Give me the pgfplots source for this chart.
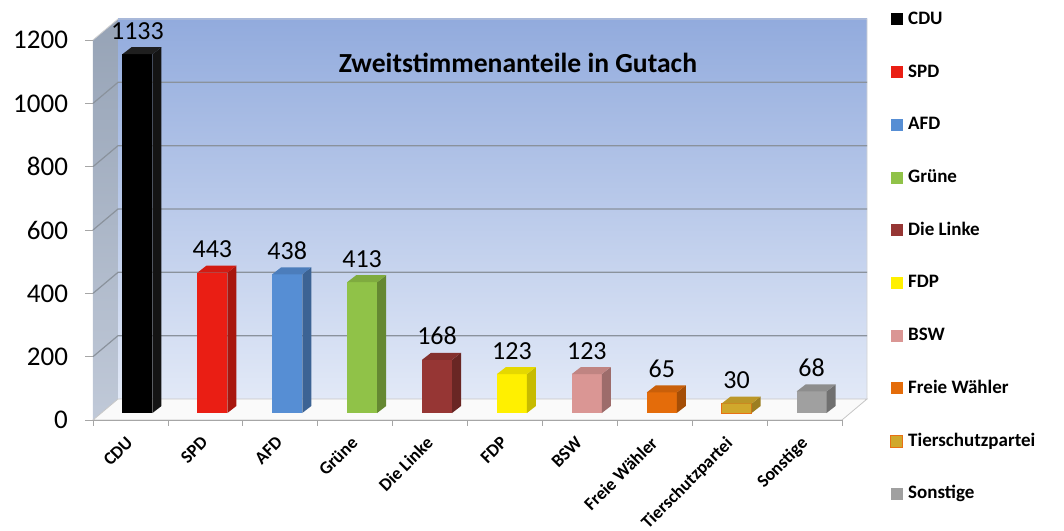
\documentclass[border=0pt]{standalone}
\usepackage{fontspec}
\setmainfont{Carlito}
\usepackage{pgfplots}
\pgfplotsset{compat=1.18}

\definecolor{cCDU}{RGB}{0,0,0}
\definecolor{cSPD}{RGB}{234,30,20}
\definecolor{cAFD}{RGB}{86,142,212}
\definecolor{cGRU}{RGB}{144,194,72}
\definecolor{cLIN}{RGB}{150,54,52}
\definecolor{cFDP}{RGB}{255,240,0}
\definecolor{cBSW}{RGB}{218,150,148}
\definecolor{cFW}{RGB}{228,108,10}
\definecolor{cTS}{RGB}{208,168,44}
\definecolor{cTSd}{RGB}{232,112,20}
\definecolor{cSON}{RGB}{160,160,160}
\definecolor{wallTop}{RGB}{146,171,221}
\definecolor{wallBot}{RGB}{226,233,247}
\definecolor{sideTop}{RGB}{150,163,182}
\definecolor{sideBot}{RGB}{192,201,216}
\definecolor{gridc}{RGB}{138,146,156}
\definecolor{floorc}{RGB}{250,250,250}

% side face of a bar: data point is the top centre of the front face
\pgfdeclareplotmark{pside}{%
  \pgfmathsetlengthmacro\hh{\ry*0.1583333pt}%
  \pgfpathmoveto{\pgfqpoint{7.5pt}{0pt}}%
  \pgfpathlineto{\pgfqpoint{12pt}{3.5pt}}%
  \pgfpathlineto{\pgfpoint{12pt}{3.5pt-\hh}}%
  \pgfpathlineto{\pgfpoint{7.5pt}{-\hh}}%
  \pgfpathclose\pgfusepathqfill}
% top face of a bar
\pgfdeclareplotmark{ptop}{%
  \pgfpathmoveto{\pgfqpoint{-7.5pt}{0pt}}%
  \pgfpathlineto{\pgfqpoint{7.5pt}{0pt}}%
  \pgfpathlineto{\pgfqpoint{12pt}{3.5pt}}%
  \pgfpathlineto{\pgfqpoint{-3pt}{3.5pt}}%
  \pgfpathclose\pgfusepathqfill}

\pgfplotsset{sqleg/.style={legend image code/.code={\path[##1] (0pt,-3pt) rectangle (6pt,3pt);}}}

% #1 x, #2 value, #3 front colour, #4 side colour, #5 top colour, #6 front outline
\newcommand\party[6]{%
  \addplot[ybar, bar width=15pt, bar shift=0pt, fill=#3, draw=#6, sqleg] coordinates {(#1,#2)};
  \addplot[only marks, mark=pside, mark options={fill=#4, draw=none},
    visualization depends on={rawy \as \ry}, forget plot] coordinates {(#1,#2)};
  \addplot[only marks, mark=ptop, mark options={fill=#5, draw=none},
    nodes near coords, forget plot] coordinates {(#1,#2)};
}

\begin{document}
\begin{tikzpicture}
\useasboundingbox (-50pt,-58.5pt) rectangle (482pt,206.5pt);
\begin{axis}[
  scale only axis, width=374.5pt, height=190pt,
  xmin=-0.5, xmax=9.5, ymin=0, ymax=1200,
  clip=false,
  axis line style={draw=none},
  major tick length=0pt,
  xtick={0,...,9},
  xticklabels={CDU,SPD,AFD,Grüne,Die Linke,FDP,BSW,Freie Wähler,Tierschutzpartei,Sonstige},
  ytick={0,200,...,1200},
  /pgf/number format/1000 sep={},
  /pgf/number format/assume math mode=true,
  yticklabel style={font=\fontsize{13.5}{16}\selectfont, xshift=-12.5pt, yshift=-3.5pt},
  xticklabel style={xshift=-6pt, yshift=-11pt, font=\bfseries\fontsize{9}{11}\selectfont, rotate=45, anchor=north east, inner sep=0pt},
  title={Zweitstimmenanteile in Gutach},
  title style={at={(0.558,0.889)}, anchor=center, font=\bfseries\fontsize{13.8}{16}\selectfont},
  legend cell align=left,
  legend style={draw=none, fill=none, inner sep=0pt, at={(1,1)}, anchor=north west,
    xshift=20.5pt, yshift=11.5pt, row sep=17.35pt, column sep=2.5pt,
    font=\bfseries\fontsize{9.5}{11}\selectfont,
    nodes={inner sep=0pt, text height=7pt, text depth=2pt}},
  every node near coord/.append style={font=\fontsize{13}{15}\selectfont, anchor=base, inner sep=0pt, yshift=7.5pt, text=black},
]
% side wall
\shade[top color=sideTop, bottom color=sideBot]
  ([xshift=-3.5pt,yshift=-3.5pt]axis cs:-0.5,0) -- ([xshift=9pt,yshift=7pt]axis cs:-0.5,0)
  -- ([xshift=9pt,yshift=7pt]axis cs:-0.5,1200) -- ([xshift=-3.5pt,yshift=-3.5pt]axis cs:-0.5,1200) -- cycle;
% back wall
\shade[top color=wallTop, bottom color=wallBot]
  ([xshift=9pt,yshift=7pt]axis cs:-0.5,0) rectangle ([xshift=9pt,yshift=7pt]axis cs:9.5,1200);
\draw[gray!35] ([xshift=-3.5pt,yshift=-3.5pt]axis cs:-0.5,1200) -- ([xshift=9pt,yshift=7pt]axis cs:-0.5,1200)
  -- ([xshift=9pt,yshift=7pt]axis cs:9.5,1200) -- ([xshift=9pt,yshift=7pt]axis cs:9.5,0);
% floor
\fill[floorc, draw=gray!45]
  ([xshift=-3.5pt,yshift=-3.5pt]axis cs:-0.5,0) -- ([xshift=-3.5pt,yshift=-3.5pt]axis cs:9.5,0)
  -- ([xshift=9pt,yshift=7pt]axis cs:9.5,0) -- ([xshift=9pt,yshift=7pt]axis cs:-0.5,0) -- cycle;
% grid lines
\pgfplotsinvokeforeach{200,400,600,800,1000}{
  \draw[gridc, line width=0.6pt] ([xshift=-3.5pt,yshift=-3.5pt]axis cs:-0.5,#1) -- ([xshift=9pt,yshift=7pt]axis cs:-0.5,#1)
    -- ([xshift=9pt,yshift=7pt]axis cs:9.5,#1);
}
% y ticks on the front edge
\pgfplotsinvokeforeach{0,200,400,600,800,1000,1200}{
  \draw[gray!70] ([xshift=-3.5pt,yshift=-3.5pt]axis cs:-0.5,#1) -- ++(-4pt,0pt);
}
% x ticks on the front edge
\draw[gray!70] ([xshift=-3.5pt,yshift=-3.5pt]axis cs:-0.5,0) -- ([xshift=-3.5pt,yshift=-3.5pt]axis cs:9.5,0);
\pgfplotsinvokeforeach{-0.5,0.5,1.5,2.5,3.5,4.5,5.5,6.5,7.5,8.5,9.5}{
  \draw[gray!70] ([xshift=-3.5pt,yshift=-3.5pt]axis cs:#1,0) -- ++(0pt,-3pt);
}

\party{0}{1133}{cCDU}{cCDU!92!white}{cCDU!88!white}{none}
\party{1}{443}{cSPD}{cSPD!72!black}{cSPD!90!black}{none}
\party{2}{438}{cAFD}{cAFD!70!black}{cAFD!88!black}{none}
\party{3}{413}{cGRU}{cGRU!70!black}{cGRU!88!black}{none}
\party{4}{168}{cLIN}{cLIN!70!black}{cLIN!88!black}{none}
\party{5}{123}{cFDP}{cFDP!78!black}{cFDP!90!black}{none}
\party{6}{123}{cBSW}{cBSW!72!black}{cBSW!88!black}{none}
\party{7}{65}{cFW}{cFW!72!black}{cFW!88!black}{none}
\party{8}{30}{cTS}{cTS!75!black}{cTS!90!black}{cTSd}
\party{9}{68}{cSON}{cSON!70!black}{cSON!88!black}{none}

\legend{CDU,SPD,AFD,Grüne,Die Linke,FDP,BSW,Freie Wähler,Tierschutzpartei,Sonstige}
\end{axis}
\end{tikzpicture}
\end{document}
